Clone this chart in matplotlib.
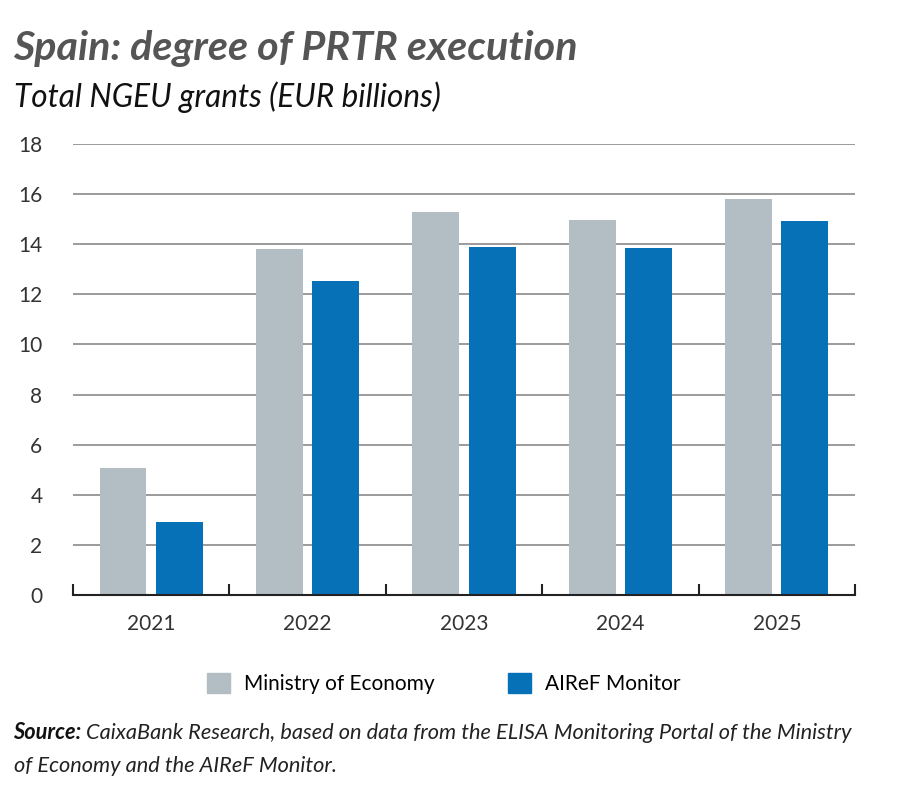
import matplotlib.pyplot as plt
import numpy as np
from matplotlib.patches import Patch

years = ['2021', '2022', '2023', '2024', '2025']
ministry = [5.05, 13.8, 15.28, 14.96, 15.8]
airef = [2.9, 12.53, 13.89, 13.85, 14.92]

GRAY = '#B2BEC3'
BLUE = '#0671B7'

plt.rcParams['font.family'] = ['Lato', 'DejaVu Sans']

fig = plt.figure(figsize=(9, 8.09), dpi=100)
ax = fig.add_axes([0.0811, 0.2645, 0.8689, 0.5575])

x = np.arange(len(years))
w = 0.30
ax.bar(x - 0.18, ministry, w, color=GRAY, zorder=3)
ax.bar(x + 0.18, airef, w, color=BLUE, zorder=3)

ax.set_xlim(-0.5, len(years) - 0.5)
ax.set_ylim(0, 18)
ax.set_yticks(np.arange(0, 19, 2))
ax.yaxis.grid(True, color='#8a8a8a', linewidth=1.2, zorder=0)
ax.tick_params(axis='y', length=0, pad=22, labelsize=15, labelcolor='#333333')

ax.set_xticks(x)
ax.set_xticklabels(years)
ax.set_xticks(np.arange(-0.5, len(years), 1), minor=True)
ax.tick_params(axis='x', which='major', length=0, pad=14, labelsize=15, labelcolor='#333333')
ax.tick_params(axis='x', which='minor', direction='in', length=8, width=1.5, color='#222222')

for s in ['top', 'right', 'left']:
    ax.spines[s].set_visible(False)
ax.spines['bottom'].set_color('#222222')
ax.spines['bottom'].set_linewidth(1.5)
ax.spines['bottom'].set_zorder(4)

fig.text(0.015, 0.94, 'Spain: degree of PRTR execution', fontsize=29.7,
         fontweight='bold', fontstyle='italic', color='#555555', va='center')
fig.text(0.015, 0.88, 'Total NGEU grants (EUR billions)', fontsize=22.7,
         fontstyle='italic', color='#111111', va='center')

handles = [Patch(color=GRAY, label='Ministry of Economy'),
           Patch(color=BLUE, label='AIReF Monitor')]
fig.legend(handles=handles, loc='center', bbox_to_anchor=(0.493, 0.155), ncol=2,
           frameon=False, fontsize=15, handlelength=1.1, handleheight=1.1,
           handletextpad=0.7, columnspacing=3.5)

src = fig.text(0.015, 0.094, 'Source:', fontsize=15.7, fontweight='bold', fontstyle='italic',
               color='#111111', va='center')
fig.canvas.draw()
bb = src.get_window_extent().transformed(fig.transFigure.inverted())
fig.text(bb.x1 + 0.005, 0.094,
         'CaixaBank Research, based on data from the ELISA Monitoring Portal of the Ministry',
         fontsize=15.7, fontstyle='italic', color='#222222', va='center')
fig.text(0.015, 0.053, 'of Economy and the AIReF Monitor.', fontsize=15.7, fontstyle='italic',
         color='#222222', va='center')

fig.savefig('out.png', dpi=100)
